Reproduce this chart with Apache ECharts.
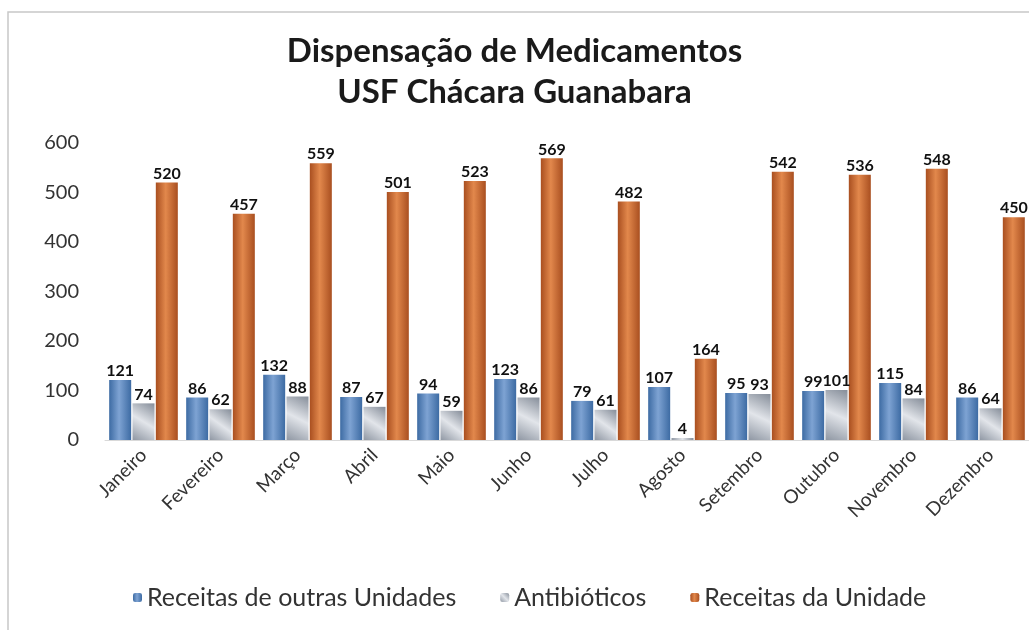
<!DOCTYPE html>
<html>
<head>
<meta charset="utf-8">
<script src="https://cdn.jsdelivr.net/npm/echarts@6/dist/echarts.min.js"></script>
<style>
  html, body { margin: 0; padding: 0; background: #fff; }
  #main { width: 1029px; height: 630px; }
</style>
</head>
<body>
<div id="main"></div>
<script>
const months = ['Janeiro', 'Fevereiro', 'Março', 'Abril', 'Maio', 'Junho', 'Julho', 'Agosto', 'Setembro', 'Outubro', 'Novembro', 'Dezembro']
const outrasUnidades = [121, 86, 132, 87, 94, 123, 79, 107, 95, 99, 115, 86]
const antibioticos = [74, 62, 88, 67, 59, 86, 61, 4, 93, 101, 84, 64]
const daUnidade = [520, 457, 559, 501, 523, 569, 482, 164, 542, 536, 548, 450]
const yTicks = [0, 100, 200, 300, 400, 500, 600]

const font = 'Lato, "Open Sans", sans-serif'

// gradiente horizontal tipo Excel
function grad(edge, mid) {
    return new echarts.graphic.LinearGradient(0, 0, 1, 0, [
        {offset: 0, color: edge},
        {offset: 0.45, color: mid},
        {offset: 1, color: edge}
    ])
}

const label = {
    show: true,
    position: 'top',
    distance: 1,
    color: '#111',
    fontWeight: 'bold',
    fontSize: 16,
    fontFamily: font
}

const myChart = echarts.init(document.getElementById('main'))
myChart.setOption({
    backgroundColor: '#fff',
    animation: false,
    title: {
        text: 'Dispensação de Medicamentos\nUSF Chácara Guanabara',
        left: 'center',
        top: 26,
        textStyle: {fontFamily: font, fontWeight: 'bold', fontSize: 33, lineHeight: 41, color: '#1a1a1a'}
    },
    graphic: [{
        type: 'polyline',
        shape: {points: [[8, 630], [8, 12], [1029, 12]]},
        style: {stroke: '#c8c8c8', lineWidth: 1.5, fill: null}
    }],
    legend: {
        bottom: 15,
        left: 128,
        itemWidth: 9,
        itemHeight: 9,
        itemGap: 44,
        textStyle: {fontFamily: font, fontSize: 25, color: '#333'},
        data: ['Receitas de outras Unidades', 'Antibióticos', 'Receitas da Unidade']
    },
    grid: {left: 105, right: 0, top: 143, bottom: 190},
    xAxis: {
        type: 'category',
        data: months,
        axisLine: {lineStyle: {color: '#d9d9d9'}},
        axisTick: {show: false},
        axisLabel: {rotate: 45, fontFamily: font, fontSize: 19, color: '#333', margin: 12, interval: 0}
    },
    yAxis: {
        type: 'value',
        min: yTicks[0],
        max: yTicks[yTicks.length - 1],
        interval: 100,
        splitLine: {show: false},
        axisLine: {show: false},
        axisTick: {show: false},
        axisLabel: {fontFamily: font, fontSize: 20, color: '#333', margin: 26}
    },
    series: [
        {
            name: 'Receitas de outras Unidades',
            type: 'bar',
            data: outrasUnidades,
            barWidth: 22,
            barGap: '6%',
            itemStyle: {color: grad('#3d6ba3', '#7ea3d3')},
            label: label
        },
        {
            name: 'Antibióticos',
            type: 'bar',
            data: antibioticos,
            barWidth: 22,
            barGap: '6%',
            itemStyle: {
                color: new echarts.graphic.LinearGradient(0, 1, 1, 0, [
                    {offset: 0, color: '#8f97a3'},
                    {offset: 0.5, color: '#e2e5ea'},
                    {offset: 1, color: '#858d99'}
                ])
            },
            label: label
        },
        {
            name: 'Receitas da Unidade',
            type: 'bar',
            data: daUnidade,
            barWidth: 22,
            barGap: '6%',
            itemStyle: {color: grad('#a94f20', '#e2884c')},
            label: label
        }
    ]
})
</script>
</body>
</html>
